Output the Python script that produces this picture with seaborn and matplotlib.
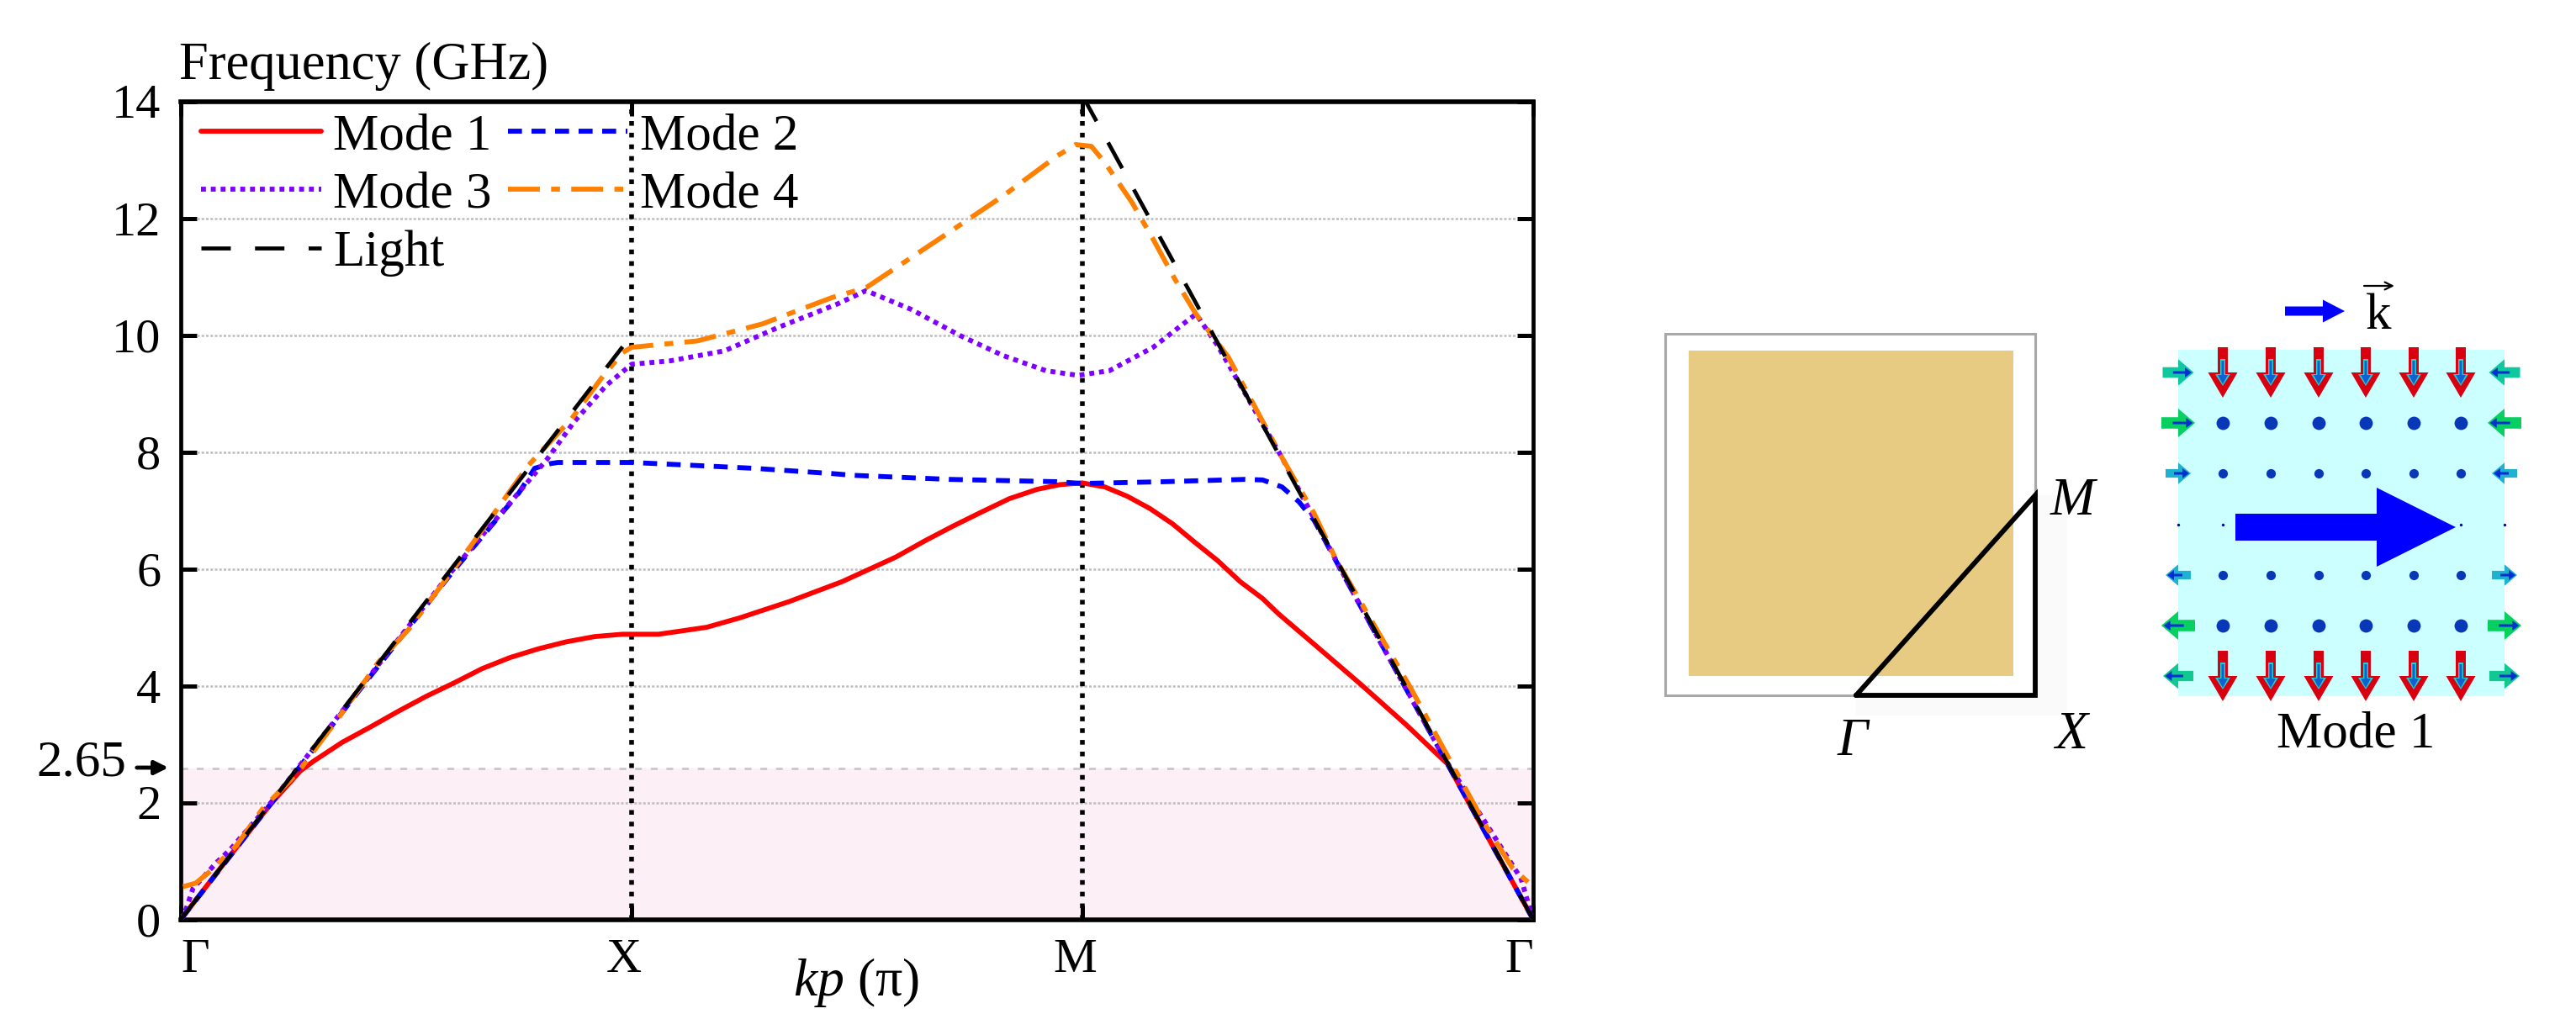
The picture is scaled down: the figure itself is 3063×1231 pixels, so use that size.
# 能带图 + 右侧示意图

import matplotlib
matplotlib.use('Agg')
import matplotlib.pyplot as plt
import pandas as pd
import seaborn as sns
from matplotlib.patches import FancyArrow, Rectangle
from matplotlib.transforms import ScaledTranslation

# 色散曲线数据 (X=1, M=2, 末尾 Gamma=3)
mode1_x = [0, 0.1, 0.2, 0.265, 0.295, 0.358, 0.42, 0.482, 0.545, 0.607, 0.668, 0.73, 0.793, 0.855, 0.918, 0.98, 1.06,
           1.123, 1.167, 1.24, 1.35, 1.467, 1.586, 1.651, 1.713, 1.776, 1.838, 1.9, 1.95, 2.0, 2.05, 2.1, 2.15, 2.2,
           2.25, 2.3, 2.35, 2.4, 2.435, 2.514, 2.615, 2.717, 2.81, 2.9, 3.0]
mode1_y = [0, 1.0, 1.98, 2.54, 2.71, 3.03, 3.29, 3.56, 3.82, 4.05, 4.29, 4.48, 4.63, 4.75, 4.84, 4.88, 4.88,
           4.95, 5.0, 5.16, 5.44, 5.78, 6.2, 6.48, 6.73, 6.97, 7.2, 7.36, 7.44, 7.47, 7.4, 7.24, 7.03, 6.77,
           6.45, 6.14, 5.78, 5.49, 5.23, 4.71, 4.04, 3.34, 2.66, 1.4, 0]

mode2_x = [0, 0.2, 0.4, 0.6, 0.75, 0.785, 0.82, 0.837, 1.0, 1.11, 1.27, 1.444, 1.49, 1.705, 1.943, 2.0, 2.18, 2.36,
           2.4, 2.443, 2.48, 2.514, 2.6, 2.8, 3.0]
mode2_y = [0, 1.98, 3.96, 5.92, 7.3, 7.72, 7.8, 7.82, 7.82, 7.78, 7.72, 7.63, 7.6, 7.53, 7.49, 7.46, 7.49, 7.53,
           7.52, 7.4, 7.15, 6.83, 5.6, 2.8, 0]

mode3_x = [0, 0.01, 0.027, 0.08, 0.11, 0.2, 0.4, 0.6, 0.813, 0.872, 0.944, 1.0, 1.087, 1.206, 1.325, 1.456, 1.52,
           1.62, 1.729, 1.824, 1.919, 1.99, 2.06, 2.157, 2.252, 2.3, 2.443, 2.6, 2.8, 2.973, 2.99, 3.0]
mode3_y = [0, 0.14, 0.53, 0.98, 1.2, 2.0, 3.98, 5.95, 7.88, 8.51, 9.14, 9.5, 9.56, 9.73, 10.13, 10.53, 10.76,
           10.44, 9.99, 9.65, 9.39, 9.31, 9.39, 9.79, 10.36, 9.82, 7.9, 5.6, 2.8, 0.7, 0.25, 0]

mode4_x = [0.005, 0.033, 0.063, 0.123, 0.18, 0.26, 0.35, 0.438, 0.505, 0.646, 0.771, 0.867, 0.932, 0.98, 1.0, 1.146,
           1.29, 1.444, 1.52, 1.693, 1.824, 1.943, 1.985, 2.02, 2.05, 2.11, 2.157, 2.205, 2.252, 2.324, 2.443, 2.514,
           2.562, 2.729, 2.8, 2.895, 2.955, 3.0]
mode4_y = [0.56, 0.62, 0.81, 1.26, 1.88, 2.52, 3.45, 4.4, 4.96, 6.42, 7.77, 8.57, 9.25, 9.7, 9.79, 9.9,
           10.19, 10.64, 10.81, 11.7, 12.38, 13.06, 13.26, 13.23, 12.95, 12.27, 11.64, 10.96, 10.36, 9.62, 7.9, 6.95,
           6.17, 3.95, 2.94, 1.6, 0.87, 0.56]

# 光线分两段
light_x1 = [0, 0.98]
light_y1 = [0, 9.8]
light_x2 = [2.0, 3.0]
light_y2 = [14.1, 0]

y_ticks = [0, 2, 4, 6, 8, 10, 12, 14]
x_ticks = [0, 1, 2, 3]
x_tick_labels = ['Γ', 'X', 'M', 'Γ']
band_top = 2.58

# 右侧示意图 (像素坐标)
field_cols = [2643, 2700, 2757, 2813, 2870, 2926]
field_rows = [443, 503, 563, 624, 684, 744, 804]
red_rows = [413, 774]
dot_rows_big = [503, 744]
dot_rows_small = [563, 684]
tiny_dots_x = [2590, 2643, 2926, 2978]
side_rows = [443, 503, 563, 684, 744, 804]
side_dirs = [1, 1, 1, -1, -1, -1]
side_len = [37, 40, 30, 30, 40, 36]
side_colors = ['#10c8a0', '#08d060', '#20b0d0', '#20b0d0', '#08d060', '#10c890']

TEXT_FONT = ['Liberation Serif', 'DejaVu Sans']
DPI = 100

sns.set_theme(style='white')
plt.rcParams['font.family'] = TEXT_FONT
plt.rcParams['text.color'] = 'black'
plt.rcParams['mathtext.fontset'] = 'custom'
plt.rcParams['mathtext.it'] = 'Liberation Serif:italic'
plt.rcParams['mathtext.rm'] = 'Liberation Serif'

fig = plt.figure(figsize=(30.63, 12.31), dpi=DPI)
ax = fig.add_axes([215 / 3063, 1 - 1093.5 / 1231, 1608 / 3063, 973 / 1231])

ax.axhspan(0, band_top, color='#fdeff6', lw=0, zorder=0)
ax.axhline(band_top, color='#c8c8c8', lw=2.0, ls=(0, (2.9, 3.8)), zorder=1)
for y in y_ticks[1:-1]:
    ax.plot([0.035, 2.965], [y, y], color='#bdbdbd', lw=1.8, ls=(0, (1.2, 0.9)), zorder=1)
for x in x_ticks[1:3]:
    ax.axvline(x, color='black', lw=4.0, ls=(0, (1, 1.5)), zorder=2)

line_w = 4.2
curves = [
    (mode1_x, mode1_y, 'Mode 1', '#ff0000', '-'),
    (mode2_x, mode2_y, 'Mode 2', '#0000ff', (0, (2.85, 1.95))),
    (mode3_x, mode3_y, 'Mode 3', '#8000ff', (0, (1.0, 1.0))),
    (mode4_x, mode4_y, 'Mode 4', '#ff8000', (0, (6.5, 2.3, 1.8, 2.3))),
]
for xs, ys, name, col, style in curves:
    df = pd.DataFrame({'x': xs, 'y': ys})
    sns.lineplot(data=df, x='x', y='y', ax=ax, color=col, lw=line_w, linestyle=style, sort=False,
                 estimator=None, label=name, zorder=3)
light_style = (0, (7.4, 6.1))
sns.lineplot(x=light_x1, y=light_y1, ax=ax, color='black', lw=3.4, linestyle=light_style, sort=False,
             estimator=None, label='Light', zorder=4)
sns.lineplot(x=light_x2, y=light_y2, ax=ax, color='black', lw=3.4, linestyle=light_style, sort=False,
             estimator=None, zorder=4)

ax.set_xlim(0, 3)
ax.set_ylim(0, 14)
ax.set_xlabel('')
ax.set_ylabel('')

for s in ax.spines.values():
    s.set_visible(True)
    s.set_color('black')
    s.set_linewidth(3.4)
ax.spines['top'].set_linewidth(4.0)
ax.spines['bottom'].set_linewidth(4.0)

ax.set_yticks(y_ticks)
ax.set_xticks(x_ticks)
ax.set_xticklabels(x_tick_labels)
ax.tick_params(axis='y', which='major', direction='in', left=True, right=True, length=14, width=3.6,
               labelsize=42, pad=17, labelcolor='black', color='black')
ax.tick_params(axis='x', which='major', direction='in', bottom=True, top=True, length=12, width=3.6,
               labelsize=42, pad=16, labelcolor='black', color='black')

labs = ax.get_xticklabels()
labs[0].set_ha('left')
labs[3].set_ha('right')
shift = ScaledTranslation(-9 / DPI, 0, fig.dpi_scale_trans)
labs[1].set_transform(labs[1].get_transform() + shift)
labs[2].set_transform(labs[2].get_transform() + shift)

handles, labels = ax.get_legend_handles_labels()
lookup = dict(zip(labels, handles))
order = ['Mode 1', 'Mode 3', 'Light', 'Mode 2', 'Mode 4']
ax.legend([lookup[k] for k in order], order, ncol=2, frameon=False, fontsize=44,
          loc='upper left', bbox_to_anchor=(12 / 1608, 1 - 2 / 973), borderaxespad=0, borderpad=0.2,
          handlelength=2.33, handletextpad=0.24, columnspacing=0.31, labelspacing=0.22)

# 覆盖全图的像素坐标轴
over = fig.add_axes([0, 0, 1, 1])
over.set_xlim(0, 3063)
over.set_ylim(1231, 0)
over.axis('off')
over.patch.set_alpha(0)

over.text(213, 79, 'Frequency (GHz)', fontsize=45, color='black', ha='left', va='center')
over.text(1018, 1169, r'$\mathit{kp}$ (π)', fontsize=46, color='black', ha='center', va='center')
over.text(150, 908, '2.65', fontsize=44, color='black', ha='right', va='center')
over.annotate('', xy=(203, 913), xytext=(160, 913),
              arrowprops=dict(arrowstyle='-|>', color='black', lw=3.5, mutation_scale=24))

# 布里渊区
over.add_patch(Rectangle((2420, 589), 38, 262, color='#fafafa', lw=0, zorder=0))
over.add_patch(Rectangle((2207, 827), 251, 24, color='#fafafa', lw=0, zorder=0))
over.add_patch(Rectangle((1980, 397), 440, 430, fill=False, edgecolor='#a8a8a8', lw=2.2, zorder=1))
over.add_patch(Rectangle((2008, 417), 386, 387, color='#e8cb82', lw=0, zorder=2))
over.plot([2207, 2420, 2420, 2207], [827, 827, 589, 827], color='black', lw=4.2, solid_joinstyle='miter', zorder=3)
over.text(2464, 597, 'M', fontsize=46, style='italic', color='black', ha='center', va='center')
over.text(2203, 883, 'Γ', fontsize=46, style='italic', color='black', ha='center', va='center')
over.text(2463, 875, 'X', fontsize=46, style='italic', color='black', ha='center', va='center')

# Mode 1 场分布
over.add_patch(Rectangle((2590, 416), 388, 412, color='#ccffff', lw=0, zorder=1))


def draw_arrow(x, y, dx, dy, w, head_w, head_l, col, z=3):
    over.add_patch(FancyArrow(x, y, dx, dy, width=w, head_width=head_w, head_length=head_l,
                              length_includes_head=True, color=col, lw=0, zorder=z))


for top in red_rows:
    for x in field_cols:
        draw_arrow(x, top, 0, 60, 12, 35, 30, '#d80010')
        draw_arrow(x, top + 14, 0, 32, 6, 18, 14, '#20d0d0', z=4)
        draw_arrow(x, top + 16, 0, 28, 3, 12, 11, '#1060d0', z=5)

for y, sign, size, col in zip(side_rows, side_dirs, side_len, side_colors):
    head = size * 0.5
    draw_arrow(2590 - sign * size / 2, y, sign * size, 0, size * 0.34, size * 0.85, head, col)
    draw_arrow(2590 - sign * size / 6, y, sign * size * 0.6, 0, 3, 12, 8, '#0030d0', z=4)
    draw_arrow(2978 + sign * size / 2, y, -sign * size, 0, size * 0.34, size * 0.85, head, col)
    draw_arrow(2978 + sign * size / 6, y, -sign * size * 0.6, 0, 3, 12, 8, '#0030d0', z=4)

for rows, area in ((dot_rows_big, 130), (dot_rows_small, 65)):
    for y in rows:
        sns.scatterplot(x=field_cols, y=[y] * len(field_cols), ax=over, color='#0838b8', s=area, linewidth=0,
                        zorder=3, legend=False)
sns.scatterplot(x=tiny_dots_x, y=[field_rows[3]] * len(tiny_dots_x), ax=over, color='#0000c0', s=6, linewidth=0,
                zorder=3, legend=False)

draw_arrow(2658, 627, 262, 0, 32, 94, 94, '#0000ff', z=5)
draw_arrow(2717, 370, 71, 0, 11, 27, 26, '#0000ff', z=5)
over.text(2828, 376, 'k', fontsize=44, color='black', ha='center', va='center')
over.annotate('', xy=(2847, 340), xytext=(2811, 340),
              arrowprops=dict(arrowstyle='->', color='black', lw=1.6, mutation_scale=16, shrinkA=0, shrinkB=0))
over.text(2801, 874, 'Mode 1', fontsize=44, color='black', ha='center', va='center')
over.set_xlabel('')
over.set_ylabel('')
over.set_xlim(0, 3063)
over.set_ylim(1231, 0)

fig.savefig('out.png', dpi=DPI)
